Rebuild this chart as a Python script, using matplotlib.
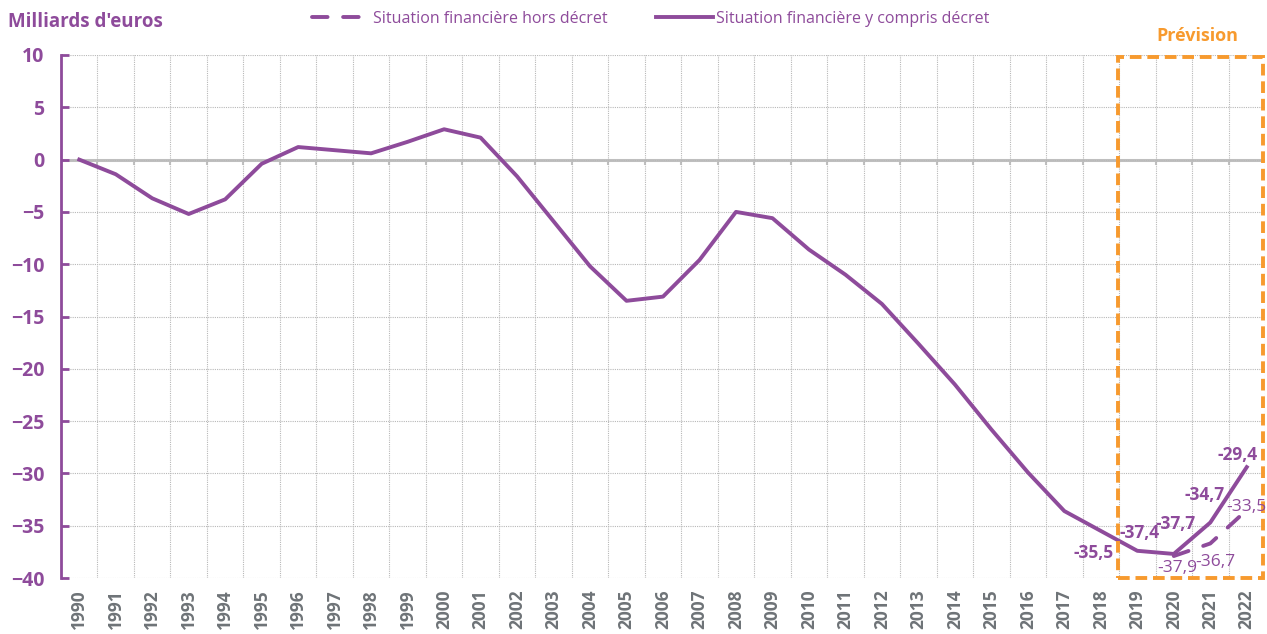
import matplotlib
matplotlib.use("Agg")
import matplotlib.pyplot as plt
import numpy as np
from matplotlib.patches import Rectangle

years = [str(y) for y in range(1990, 2023)]
avec_decret = [0.0, -1.4, -3.7, -5.2, -3.8, -0.4, 1.2, 0.9, 0.6, 1.7, 2.9, 2.1,
               -1.6, -5.9, -10.2, -13.5, -13.1, -9.6, -5.0, -5.6, -8.6, -11.0,
               -13.8, -17.6, -21.5, -25.8, -29.9, -33.6, -35.5, -37.4, -37.7,
               -34.7, -29.4]
hors_decret_years = ["2020", "2021", "2022"]
hors_decret = [-37.9, -36.7, -33.5]
y_ticks = [10, 5, 0, -5, -10, -15, -20, -25, -30, -35, -40]

PURPLE = "#8E4B9B"
ORANGE = "#F79A2E"
GRAY = "#6E7377"
FONT = ["Open Sans", "DejaVu Sans"]
plt.rcParams["font.family"] = FONT

fig = plt.figure(figsize=(12.67, 6.34), dpi=100)
ax = fig.add_axes([61/1267, 1-578/634, (1265-61)/1267, (578-55)/634])

x = np.arange(len(years))
xh = np.array([years.index(y) for y in hors_decret_years])

ax.set_xlim(-0.5, len(years)-0.5)
ax.set_ylim(-40, 10)

# grid
ax.set_yticks(y_ticks)
ax.set_xticks(x)
ax.set_xticks(np.arange(-0.5, len(years)), minor=True)
ax.grid(True, axis="y", which="major", color="#B8B8B8", linestyle=(0, (1, 1)), lw=0.8)
ax.grid(True, axis="x", which="minor", color="#B8B8B8", linestyle=(0, (1, 1)), lw=0.8)
ax.grid(False, axis="x", which="major")
ax.axhline(0, color="#C0C0C0", lw=2.2, zorder=1)
ax.vlines(np.arange(0.5, len(years)-1), -0.5, 0, color="#C0C0C0", lw=1.5, zorder=1)

for s in ["top", "right", "bottom"]:
    ax.spines[s].set_visible(False)
ax.spines["left"].set_color(PURPLE)
ax.spines["left"].set_linewidth(2)
ax.tick_params(axis="y", direction="in", length=6, width=2, color=PURPLE,
               labelcolor=PURPLE, labelsize=14, pad=12)
ax.tick_params(axis="x", which="both", length=0, labelcolor=GRAY, labelsize=12.5, pad=8)
ax.set_xticklabels(years, rotation=90, fontweight="bold")
for lab in ax.get_yticklabels():
    lab.set_fontweight("bold")

l1, = ax.plot(xh, hors_decret, color=PURPLE, lw=2.8, dashes=(4, 4),
              solid_capstyle="round", dash_capstyle="round", zorder=3,
              label="Situation financière hors décret")
l2, = ax.plot(x, avec_decret, color=PURPLE, lw=2.8, zorder=4,
              label="Situation financière y compris décret")

# Prévision box
rect = Rectangle((28.47, -40), 32.44-28.47, 49.8, fill=False, edgecolor=ORANGE,
                 lw=2.8, linestyle=(0, (3, 1.5)), clip_on=False, zorder=5)
ax.add_patch(rect)
ax.text(30.65, 11.8, "Prévision", color=ORANGE, fontsize=13, fontweight="bold",
        ha="center", va="center", clip_on=False)

# data labels
idx = {y: i for i, y in enumerate(years)}
def lbl(year, val, dx, dy, bold=True):
    txt = f"{val:.1f}".replace(".", ",")
    ax.text(idx[year] + dx, val + dy, txt, color=PURPLE, fontsize=12.5,
            fontweight="bold" if bold else "normal", ha="center", va="center",
            clip_on=False, zorder=6)

lbl("2018", avec_decret[idx["2018"]], -0.2, -2.1)
lbl("2019", avec_decret[idx["2019"]], 0.05, 1.7)
lbl("2020", avec_decret[idx["2020"]], 0.05, 2.9)
lbl("2021", avec_decret[idx["2021"]], -0.15, 2.6)
lbl("2022", avec_decret[idx["2022"]], -0.25, 1.2)
lbl("2020", hors_decret[0], 0.1, -1.1, bold=False)
lbl("2021", hors_decret[1], 0.15, -1.8, bold=False)
lbl("2022", hors_decret[2], 0.0, 0.3, bold=False)

fig.text(8/1267, 1-22/634, "Milliards d'euros", color=PURPLE, fontsize=13.5,
         fontweight="bold", ha="left", va="center")

leg = fig.legend(handles=[l1, l2], loc="center", bbox_to_anchor=(651/1267, 1-19/634),
                 ncol=2, frameon=False, fontsize=11.5, handlelength=3.6,
                 columnspacing=3, handletextpad=0.2)
for t in leg.get_texts():
    t.set_color(PURPLE)

fig.savefig("out.png", dpi=100)
